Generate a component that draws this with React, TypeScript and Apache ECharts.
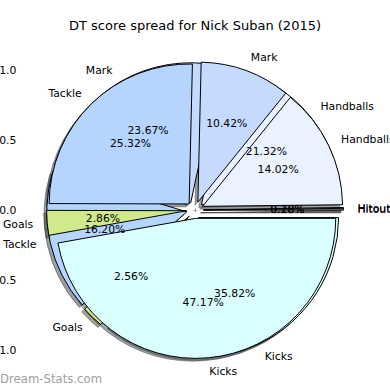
import React, { useEffect, useRef } from "react";
import * as echarts from "echarts";

const TITLE = "DT score spread for Nick Suban (2015)";
const WATERMARK = "Dream-Stats.com";
const categories = ["Hitout", "Handballs", "Mark", "Tackle", "Goals", "Kicks"];
// lower pie (drawn first)
const pieBValues = [0.28, 21.32, 23.67, 16.2, 2.56, 35.82];
// upper pie (drawn on top)
const pieAValues = [0.18, 14.02, 10.42, 25.32, 2.86, 47.17];
const colors = ["#d4d4d4", "#eaf2ff", "#c6daff", "#b5d5ff", "#d0ea8b", "#d9ffff"];
const explode = [0.06, 0.06, 0.06, 0.06, 0.06, 0.06];
const tickValues = [-1, -0.5, 0, 0.5, 1];

const AX_MIN = -1.24;
const AX_MAX = 1.24;
const SHADOW = -0.02;
const FONT = "DejaVu Sans";

type Slice = {
  name: string;
  value: number;
  t1: number;
  t2: number;
  mid: number;
  dx: number;
  dy: number;
  color: string;
  layer: number;
};

function buildSlices(values: number[], layer: number): Slice[] {
  const total = values.reduce((a, b) => a + b, 0);
  let acc = 0;
  return values.map((v, i) => {
    const t1 = (acc / total) * 2 * Math.PI;
    acc += v;
    const t2 = (acc / total) * 2 * Math.PI;
    const mid = (t1 + t2) / 2;
    return {
      name: categories[i],
      value: v,
      t1,
      t2,
      mid,
      dx: explode[i] * Math.cos(mid),
      dy: explode[i] * Math.sin(mid),
      color: colors[i],
      layer,
    };
  });
}

const slices: Slice[] = [...buildSlices(pieBValues, 0), ...buildSlices(pieAValues, 1)];

function shadowColor(hex: string) {
  const n = parseInt(hex.slice(1), 16);
  const r = Math.round(((n >> 16) & 255) * 0.3);
  const g = Math.round(((n >> 8) & 255) * 0.3);
  const b = Math.round((n & 255) * 0.3);
  return `rgba(${r},${g},${b},0.5)`;
}

const fmt = (v: number) => (v < 0 ? "\u2212" + Math.abs(v).toFixed(1) : v.toFixed(1));

function axis(position: string, showLabel: boolean, margin: number) {
  return {
    type: "value",
    min: AX_MIN,
    max: AX_MAX,
    position,
    axisLine: { show: false },
    splitLine: { show: false },
    axisTick: {
      show: true,
      customValues: tickValues,
      length: 2,
      lineStyle: { color: "#a8a8a8", width: 1 },
    },
    axisLabel: {
      show: showLabel,
      customValues: tickValues,
      formatter: fmt,
      color: "#000",
      fontSize: 10.8,
      fontFamily: FONT,
      margin,
    },
  };
}

const option: any = {
  animation: false,
  backgroundColor: "#fff",
  title: {
    text: TITLE,
    left: "center",
    top: 19,
    padding: 0,
    textStyle: { fontFamily: FONT, fontSize: 13, fontWeight: "normal", color: "#000" },
  },
  grid: {
    left: 21.4,
    top: 36.4,
    width: 347.2,
    height: 347.2,
    containLabel: false,
    outerBoundsMode: "none",
  },
  xAxis: [axis("bottom", true, 5), axis("top", false, 3)],
  yAxis: [axis("left", true, 5), axis("right", false, 5)],
  graphic: [
    {
      type: "text",
      left: 0,
      top: 373,
      style: { text: WATERMARK, fill: "#a0a0a0", fontSize: 11.7, fontFamily: FONT },
      z: 100,
    },
  ],
  series: [
    {
      type: "custom",
      coordinateSystem: "cartesian2d",
      xAxisIndex: 0,
      yAxisIndex: 0,
      silent: true,
      clip: false,
      data: slices.map((s, i) => [s.dx, s.dy, i]),
      renderItem: (params: any, api: any) => {
        const s = slices[api.value(2)];
        const c = api.coord([s.dx, s.dy]);
        const sc = api.coord([s.dx + SHADOW, s.dy + SHADOW]);
        const r = api.size([1, 1])[0];
        const lp = api.coord([s.dx + 1.1 * Math.cos(s.mid), s.dy + 1.1 * Math.sin(s.mid)]);
        const pp = api.coord([s.dx + 0.6 * Math.cos(s.mid), s.dy + 0.6 * Math.sin(s.mid)]);
        const xt = s.dx + 1.1 * Math.cos(s.mid);
        const sh = shadowColor(s.color);
        return {
          type: "group",
          children: [
            {
              type: "sector",
              z2: 1,
              shape: { cx: sc[0], cy: sc[1], r, r0: 0, startAngle: -s.t1, endAngle: -s.t2, clockwise: false },
              style: { fill: sh, stroke: sh, lineWidth: 1 },
            },
            {
              type: "sector",
              z2: 10 + s.layer,
              shape: { cx: c[0], cy: c[1], r, r0: 0, startAngle: -s.t1, endAngle: -s.t2, clockwise: false },
              style: { fill: s.color, stroke: "#000", lineWidth: 1 },
            },
            {
              type: "text",
              z2: 20 + s.layer,
              x: lp[0],
              y: lp[1],
              style: {
                text: s.name,
                fill: "#000",
                fontSize: 10.8,
                fontFamily: FONT,
                align: xt > 0 ? "left" : "right",
                verticalAlign: "middle",
              },
            },
            {
              type: "text",
              z2: 20 + s.layer,
              x: pp[0],
              y: pp[1],
              style: {
                text: s.value.toFixed(2) + "%",
                fill: "#000",
                fontSize: 10.8,
                fontFamily: FONT,
                align: "center",
                verticalAlign: "middle",
              },
            },
          ],
        };
      },
    },
  ],
};

export default function App() {
  const ref = useRef<HTMLDivElement>(null);
  useEffect(() => {
    const chart = echarts.init(ref.current!, null, { renderer: "svg" });
    chart.setOption(option);
    return () => chart.dispose();
  }, []);
  return (
    <div
      ref={ref}
      style={{ position: "fixed", left: 0, top: 0, width: 390, height: 390, background: "#fff" }}
    />
  );
}
